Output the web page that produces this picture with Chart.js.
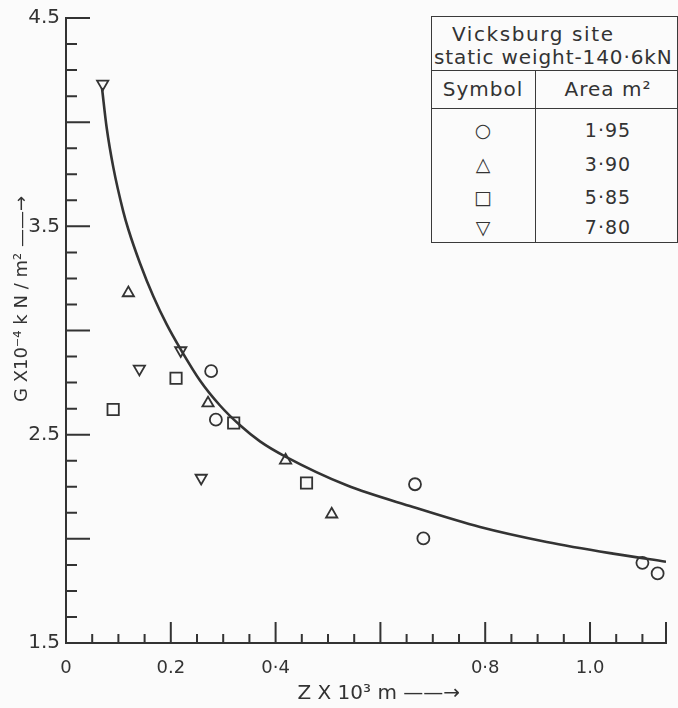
<!DOCTYPE html>
<html><head><meta charset="utf-8">
<script src="https://cdn.jsdelivr.net/npm/chart.js@4.4.1/dist/chart.umd.min.js"></script>
<style>
html,body{margin:0;padding:0;background:#fbfbfb;}
#wrap{position:relative;width:678px;height:708px;overflow:hidden;}
#c{position:absolute;left:0;top:0;}
#lgbox{position:absolute;left:431px;top:16px;width:247px;height:227px;border:1.6px solid #3a3a3a;box-sizing:border-box;background:#fbfbfb;}
.hl{position:absolute;left:431px;width:247px;height:0;border-top:1.6px solid #3a3a3a;}
.vl{position:absolute;left:535px;top:70px;width:0;height:172px;border-left:1.6px solid #3a3a3a;}
.t{position:absolute;font-family:"DejaVu Sans";color:#333;white-space:nowrap;line-height:1;}
.c{transform:translate(-50%,-50%);}
.l{transform:translate(0,-50%);}
</style></head><body>
<div id="wrap">
<canvas id="c" width="678" height="708"></canvas>
<div id="lgbox"></div>
<div class="hl" style="top:70px"></div>
<div class="hl" style="top:108px"></div>
<div class="vl"></div>
<div class="t l" style="left:452px;top:34px;font-size:20px;letter-spacing:1.6px">Vicksburg site</div>
<div class="t l" style="left:434px;top:57px;font-size:20px;letter-spacing:0.9px">static weight-140·6kN</div>
<div class="t c" style="left:483px;top:89px;font-size:20px;letter-spacing:1px">Symbol</div>
<div class="t c" style="left:608px;top:89px;font-size:20px;letter-spacing:1px">Area m²</div>
<div id="lgrows"></div>
</div>
<script>
// ---- data ----
const areaLabels = ["1·95", "3·90", "5·85", "7·80"];
const legendSymbols = ["○", "△", "□", "▽"];

const circleX = [0.277, 0.286, 0.666, 0.682, 1.100, 1.129];
const circleY = [2.805, 2.572, 2.262, 2.002, 1.885, 1.834];

const triangleX = [0.119, 0.271, 0.419, 0.507];
const triangleY = [3.180, 2.651, 2.377, 2.118];

const squareX = [0.090, 0.210, 0.320, 0.459];
const squareY = [2.621, 2.771, 2.556, 2.268];

const downTriX = [0.070, 0.140, 0.219, 0.258];
const downTriY = [4.184, 2.816, 2.904, 2.292];

const curveX = [0.0687, 0.0777, 0.0903, 0.1092, 0.1189, 0.1412, 0.1666, 0.1922, 0.2189, 0.2557, 0.2939, 0.3321, 0.3702, 0.4179, 0.5357, 0.6622, 0.7901, 0.9174, 1.0439, 1.145];
const curveY = [4.164, 3.972, 3.783, 3.572, 3.486, 3.323, 3.164, 3.029, 2.909, 2.760, 2.640, 2.545, 2.468, 2.396, 2.257, 2.153, 2.057, 1.985, 1.929, 1.890];

// ---- tick labels ----
const xLabelValues = [0, 0.2, 0.4, 0.8, 1.0];
const xLabelTexts = ["0", "0.2", "0·4", "0·8", "1.0"];
const yLabelValues = [1.5, 2.5, 3.5, 4.5];
const yLabelTexts = ["1.5", "2.5", "3.5", "4.5"];

const xMajorTicks = [0.2, 0.4, 0.6, 0.8, 1.0, 1.145];
const xMinorTicks = [0.05, 0.10, 0.15, 0.25, 0.30, 0.35, 0.45, 0.50, 0.55, 0.65, 0.70, 0.75, 0.85, 0.90, 0.95, 1.05, 1.10];
const yMajorTicks = [2.0, 2.5, 3.0, 3.5, 4.0, 4.5];
const yMinorTicks = [1.625, 1.75, 1.875, 2.125, 2.25, 2.375, 2.625, 2.75, 2.875, 3.125, 3.25, 3.375, 3.625, 3.75, 3.875, 4.125, 4.25, 4.375];

// legend rows (HTML text)
const rowTops = [130, 164, 197, 227];
const rowsEl = document.getElementById('lgrows');
areaLabels.forEach((a, i) => {
  const s = document.createElement('div');
  s.className = 't c'; s.style.left = '483px'; s.style.top = rowTops[i] + 'px'; s.style.fontSize = '19px';
  s.textContent = legendSymbols[i];
  rowsEl.appendChild(s);
  const v = document.createElement('div');
  v.className = 't c'; v.style.left = '608px'; v.style.top = rowTops[i] + 'px'; v.style.fontSize = '19px'; v.style.letterSpacing = '1px';
  v.textContent = a;
  rowsEl.appendChild(v);
});

const ink = '#333333';
const pts = (xs, ys) => xs.map((x, i) => ({x: x, y: ys[i]}));

const inwardTicks = {
  id: 'inwardTicks',
  afterDraw(chart) {
    const {ctx, scales: {x, y}} = chart;
    const x0 = x.getPixelForValue(0), y0 = y.getPixelForValue(1.5);
    ctx.save();
    ctx.strokeStyle = ink; ctx.lineWidth = 2;
    ctx.beginPath();
    xMajorTicks.forEach(v => { const p = x.getPixelForValue(v); ctx.moveTo(p, y0); ctx.lineTo(p, y0 - 21); });
    xMinorTicks.forEach(v => { const p = x.getPixelForValue(v); ctx.moveTo(p, y0); ctx.lineTo(p, y0 - 9); });
    yMajorTicks.forEach(v => { const p = y.getPixelForValue(v); ctx.moveTo(x0, p); ctx.lineTo(x0 + 24, p); });
    yMinorTicks.forEach(v => { const p = y.getPixelForValue(v); ctx.moveTo(x0, p); ctx.lineTo(x0 + 11, p); });
    ctx.stroke();
    ctx.restore();
  }
};

const mk = (label, xs, ys, style, r, rot) => ({
  label: label, data: pts(xs, ys), showLine: false,
  pointStyle: style, pointRadius: r, pointRotation: rot || 0,
  pointBorderColor: ink, pointBackgroundColor: 'rgba(0,0,0,0)', pointBorderWidth: 1.8,
  borderColor: ink, backgroundColor: 'rgba(0,0,0,0)'
});

const NB = '\u00A0';
new Chart(document.getElementById('c'), {
  type: 'scatter',
  data: {
    datasets: [
      {label: 'fit', data: pts(curveX, curveY), showLine: true, pointRadius: 0,
       borderColor: ink, borderWidth: 2.6, cubicInterpolationMode: 'monotone', fill: false},
      mk(areaLabels[0], circleX, circleY, 'circle', 6),
      mk(areaLabels[1], triangleX, triangleY, 'triangle', 6.5),
      mk(areaLabels[2], squareX, squareY, 'rect', 8),
      mk(areaLabels[3], downTriX, downTriY, 'triangle', 6.5, 180)
    ]
  },
  options: {
    responsive: false, animation: false,
    layout: {padding: {top: 17, right: 12, left: 0, bottom: 0}},
    plugins: {legend: {display: false}, tooltip: {enabled: false}},
    scales: {
      x: {
        type: 'linear', min: 0, max: 1.145,
        afterFit(s) { s.height = 65; },
        afterBuildTicks(s) { s.ticks = xLabelValues.map(v => ({value: v})); },
        grid: {display: false, drawTicks: false},
        border: {display: true, color: ink, width: 2},
        ticks: {
          autoSkip: false, maxRotation: 0, padding: 15, color: ink,
          font: {family: 'DejaVu Sans', size: 18},
          callback: (v, i) => xLabelTexts[i]
        },
        title: {display: true, text: NB.repeat(4) + 'Z X 10³ m ——→', color: ink,
          font: {family: 'DejaVu Sans', size: 20}, padding: {top: 0, bottom: 2}}
      },
      y: {
        type: 'linear', min: 1.5, max: 4.5,
        afterFit(s) { s.width = 66; },
        afterBuildTicks(s) { s.ticks = yLabelValues.map(v => ({value: v})); },
        grid: {display: false, drawTicks: false},
        border: {display: true, color: ink, width: 2},
        ticks: {
          autoSkip: false, padding: 6, color: ink,
          font: {family: 'DejaVu Sans', size: 20},
          callback: (v, i) => yLabelTexts[i]
        },
        title: {display: true, text: NB.repeat(11) + 'G X10⁻⁴ k N / m² ——→', color: ink,
          font: {family: 'DejaVu Sans', size: 18}, padding: {top: 12, bottom: 0}}
      }
    }
  },
  plugins: [inwardTicks]
});
</script>
</body></html>
